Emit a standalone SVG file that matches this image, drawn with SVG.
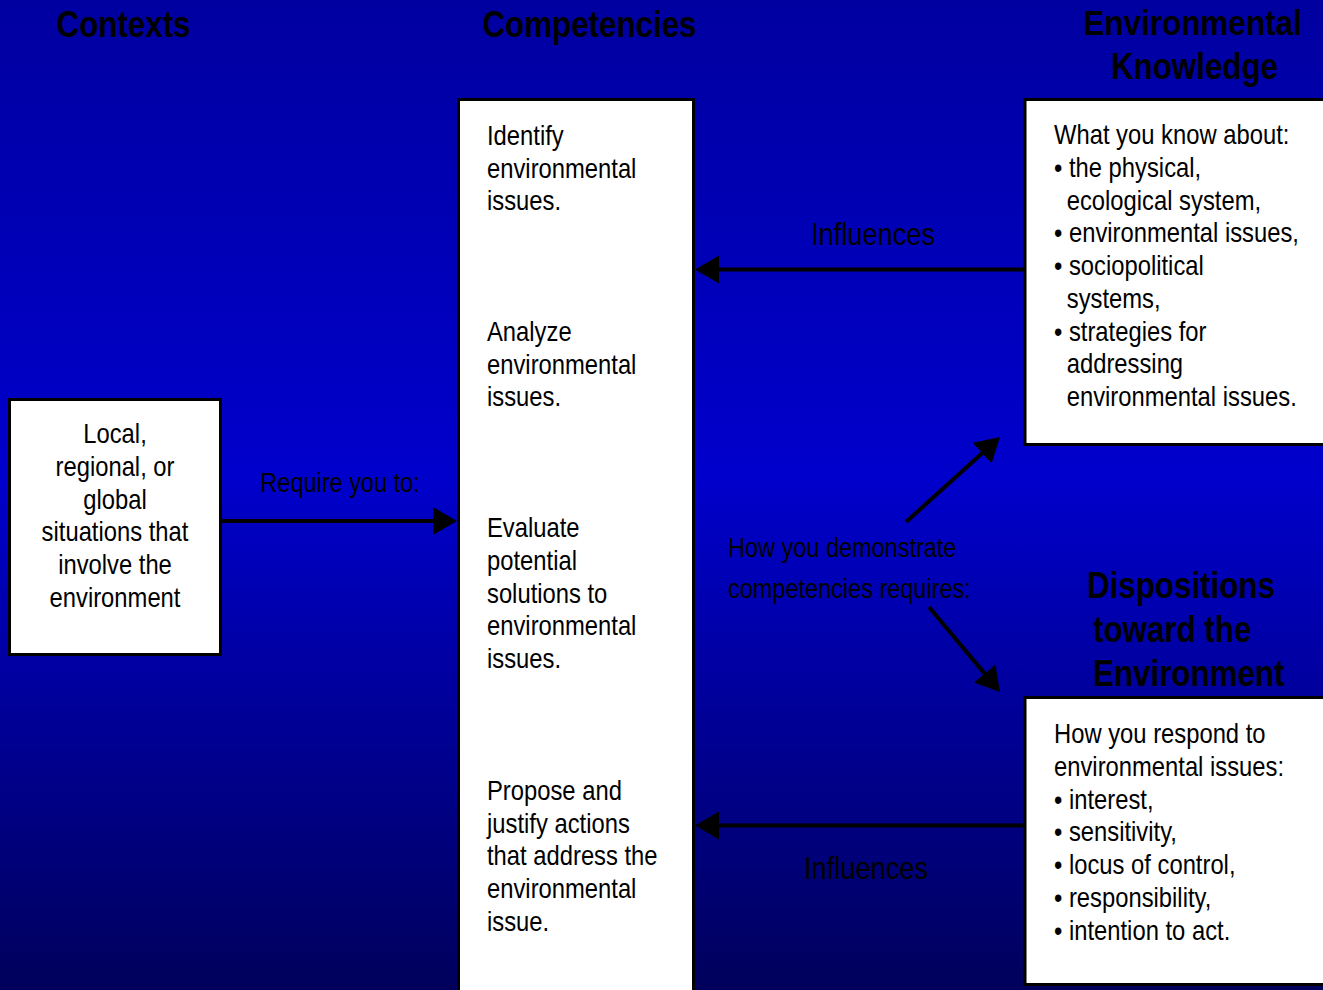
<svg xmlns="http://www.w3.org/2000/svg" width="1323" height="990" viewBox="0 0 1323 990">
  <defs>
    <linearGradient id="bg" x1="0" y1="0" x2="0" y2="1">
      <stop offset="0" stop-color="#0000A0"/>
      <stop offset="0.48" stop-color="#0000CC"/>
      <stop offset="1" stop-color="#00005C"/>
    </linearGradient>
    <marker id="ah" markerUnits="userSpaceOnUse" markerWidth="24" markerHeight="28" refX="20" refY="14" orient="auto">
      <path d="M0,0 L24,14 L0,28 Z" fill="#000"/>
    </marker>
    <style>
      .box { fill: #fff; stroke: #000; stroke-width: 3; }
      .body { font-family: "Liberation Sans", Arial, sans-serif; font-size: 28px; fill: #000; }
      .head { font-family: "Liberation Sans", Arial, sans-serif; font-size: 36px; font-weight: bold; fill: #000; }
      .lab { font-family: "Liberation Sans", Arial, sans-serif; font-size: 27px; fill: #000; }
      .lab2 { font-family: "Liberation Sans", Arial, sans-serif; font-size: 32px; fill: #000; }
      .conn { stroke: #000; stroke-width: 4; fill: none; marker-end: url(#ah); }
      .mid { text-anchor: middle; }
    </style>
  </defs>

  <rect x="0" y="0" width="1323" height="990" fill="url(#bg)"/>

  <g id="headers">
    <g transform="translate(123.5,0) scale(0.87,1)"><text class="head mid" x="0" y="37">Contexts</text></g>
    <g transform="translate(589.5,0) scale(0.87,1)"><text class="head mid" x="0" y="37">Competencies</text></g>
    <g transform="translate(1192.5,0) scale(0.875,1)"><text class="head mid" x="0" y="35">Environmental</text></g>
    <g transform="translate(1194.5,0) scale(0.87,1)"><text class="head mid" x="0" y="79">Knowledge</text></g>
    <g transform="translate(1087,0) scale(0.87,1)"><text class="head" x="0" y="598">Dispositions</text></g>
    <g transform="translate(1093,0) scale(0.87,1)"><text class="head" x="0" y="642">toward the</text></g>
    <g transform="translate(1093,0) scale(0.87,1)"><text class="head" x="0" y="686">Environment</text></g>
  </g>

  <g id="contexts">
    <rect class="box" x="9.5" y="399.5" width="211" height="255"/>
    <g transform="translate(115,0) scale(0.85,1)">
      <text class="body mid" x="0" y="443">Local,</text>
      <text class="body mid" x="0" y="476">regional, or</text>
      <text class="body mid" x="0" y="509">global</text>
      <text class="body mid" x="0" y="541">situations that</text>
      <text class="body mid" x="0" y="574">involve the</text>
      <text class="body mid" x="0" y="607">environment</text>
    </g>
  </g>

  <g id="competencies">
    <rect class="box" x="458.5" y="99.5" width="235" height="900"/>
    <g transform="translate(487,0) scale(0.85,1)">
      <text class="body" x="0" y="145">Identify</text>
      <text class="body" x="0" y="178">environmental</text>
      <text class="body" x="0" y="210">issues.</text>
      <text class="body" x="0" y="341">Analyze</text>
      <text class="body" x="0" y="374">environmental</text>
      <text class="body" x="0" y="406">issues.</text>
      <text class="body" x="0" y="537">Evaluate</text>
      <text class="body" x="0" y="570">potential</text>
      <text class="body" x="0" y="603">solutions to</text>
      <text class="body" x="0" y="635">environmental</text>
      <text class="body" x="0" y="668">issues.</text>
      <text class="body" x="0" y="800">Propose and</text>
      <text class="body" x="0" y="833">justify actions</text>
      <text class="body" x="0" y="865">that address the</text>
      <text class="body" x="0" y="898">environmental</text>
      <text class="body" x="0" y="931">issue.</text>
    </g>
  </g>

  <g id="knowledge">
    <rect class="box" x="1025" y="99.5" width="310" height="345"/>
    <g transform="translate(1054,0) scale(0.85,1)">
      <text class="body" x="0" y="144">What you know about:</text>
      <text class="body" x="0" y="177">• the physical,</text>
      <text class="body" x="15" y="210">ecological system,</text>
      <text class="body" x="0" y="242">• environmental issues,</text>
      <text class="body" x="0" y="275">• sociopolitical</text>
      <text class="body" x="15" y="308">systems,</text>
      <text class="body" x="0" y="341">• strategies for</text>
      <text class="body" x="15" y="373">addressing</text>
      <text class="body" x="15" y="406">environmental issues.</text>
    </g>
  </g>

  <g id="dispositions">
    <rect class="box" x="1025" y="697.5" width="310" height="287"/>
    <g transform="translate(1054,0) scale(0.85,1)">
      <text class="body" x="0" y="743">How you respond to</text>
      <text class="body" x="0" y="776">environmental issues:</text>
      <text class="body" x="0" y="809">• interest,</text>
      <text class="body" x="0" y="841">• sensitivity,</text>
      <text class="body" x="0" y="874">• locus of control,</text>
      <text class="body" x="0" y="907">• responsibility,</text>
      <text class="body" x="0" y="940">• intention to act.</text>
    </g>
  </g>

  <g id="connectors">
    <line class="conn" x1="222" y1="521" x2="453" y2="521"/>
    <line class="conn" x1="1024" y1="269.5" x2="699" y2="269.5"/>
    <line class="conn" x1="1024" y1="825.5" x2="699" y2="825.5"/>
    <line class="conn" x1="906" y1="522" x2="997" y2="439.7"/>
    <line class="conn" x1="929" y1="607" x2="997.4" y2="688.9"/>
  </g>

  <g id="labels">
    <g transform="translate(340,0) scale(0.87,1)"><text class="lab mid" x="0" y="492">Require you to:</text></g>
    <g transform="translate(873,0) scale(0.85,1)"><text class="lab2 mid" x="0" y="245">Influences</text></g>
    <g transform="translate(866,0) scale(0.85,1)"><text class="lab2 mid" x="0" y="879">Influences</text></g>
    <g transform="translate(728,0) scale(0.87,1)">
      <text class="lab" x="0" y="557">How you demonstrate</text>
      <text class="lab" x="0" y="598">competencies requires:</text>
    </g>
  </g>
</svg>
